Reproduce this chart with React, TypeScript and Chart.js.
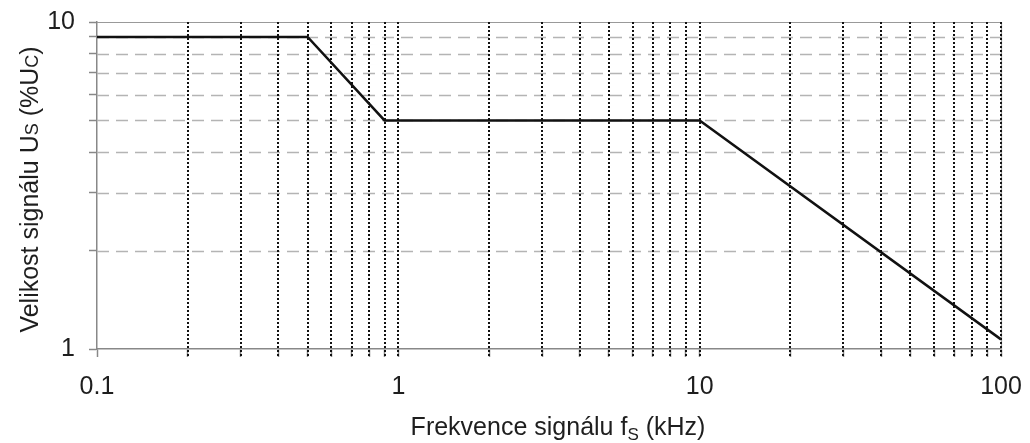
import React, { useEffect, useRef } from "react";
import { Chart, registerables } from "chart.js";

Chart.register(...registerables);

// ---- data ----
const frequencyKHz = [0.1, 0.5, 0.9, 10, 100];
const levelPercent = [9, 9, 5, 5, 1.07];

const xTickValues = [
  0.1, 0.2, 0.3, 0.4, 0.5, 0.6, 0.7, 0.8, 0.9,
  1, 2, 3, 4, 5, 6, 7, 8, 9,
  10, 20, 30, 40, 50, 60, 70, 80, 90, 100,
];
const xLabelValues = [0.1, 1, 10, 100];
const xLabelTexts = ["0.1", "1", "10", "100"];

const yTickValues = [1, 2, 3, 4, 5, 6, 7, 8, 9, 10];
const yLabelValues = [1, 10];
const yLabelTexts = ["1", "10"];

const xTitleParts = ["Frekvence signálu f", "S", " (kHz)"];
const yTitleParts = ["Velikost signálu U", "S", " (%U", "C", ")"];

const FONT = '"Liberation Sans", Arial, sans-serif';
const TEXT = "#1e1e1e";

function labelFor(v: number, values: number[], texts: string[]) {
  for (let i = 0; i < values.length; i++) {
    if (Math.abs(Math.log10(v) - Math.log10(values[i])) < 1e-6) return texts[i];
  }
  return "";
}

const gridPlugin = {
  id: "customGrid",
  beforeDatasetsDraw(chart: any) {
    const { ctx, chartArea } = chart;
    const xs = chart.scales.x;
    const ys = chart.scales.y;
    ctx.save();
    // horizontal dashed gray lines
    ctx.strokeStyle = "#b4b4b4";
    ctx.lineWidth = 1.5;
    ctx.setLineDash([12, 7]);
    for (const v of yTickValues) {
      if (v === 1 || v === 10) continue;
      const y = Math.round(ys.getPixelForValue(v)) + 0.5;
      ctx.beginPath();
      ctx.moveTo(chartArea.left, y);
      ctx.lineTo(chartArea.right, y);
      ctx.stroke();
    }
    // top and right solid gray frame
    ctx.setLineDash([]);
    ctx.strokeStyle = "#999";
    ctx.lineWidth = 1.2;
    ctx.beginPath();
    ctx.moveTo(chartArea.left, Math.round(ys.getPixelForValue(10)) + 0.5);
    ctx.lineTo(chartArea.right, Math.round(ys.getPixelForValue(10)) + 0.5);
    ctx.moveTo(Math.round(xs.getPixelForValue(100)) + 0.5, chartArea.top);
    ctx.lineTo(Math.round(xs.getPixelForValue(100)) + 0.5, chartArea.bottom);
    ctx.stroke();
    // vertical dotted black lines
    ctx.strokeStyle = "#111";
    ctx.lineWidth = 2;
    ctx.setLineDash([2, 2]);
    for (const v of xTickValues) {
      if (v === 0.1) continue;
      const x = Math.round(xs.getPixelForValue(v));
      ctx.beginPath();
      ctx.moveTo(x, chartArea.top);
      ctx.lineTo(x, chartArea.bottom + 8);
      ctx.stroke();
    }
    ctx.restore();
  },
};

function drawParts(ctx: any, parts: { t: string; size: number; dy: number }[], cx: number, baseY: number) {
  let total = 0;
  for (const p of parts) {
    ctx.font = `${p.size}px ${FONT}`;
    total += ctx.measureText(p.t).width;
  }
  let x = cx - total / 2;
  ctx.textBaseline = "alphabetic";
  ctx.textAlign = "left";
  for (const p of parts) {
    ctx.font = `${p.size}px ${FONT}`;
    ctx.fillText(p.t, x, baseY + p.dy);
    x += ctx.measureText(p.t).width;
  }
}

const titlePlugin = {
  id: "titles",
  afterDraw(chart: any) {
    const { ctx, chartArea } = chart;
    ctx.save();
    ctx.fillStyle = TEXT;
    const cx = (chartArea.left + chartArea.right) / 2 + 9;
    drawParts(
      ctx,
      [
        { t: xTitleParts[0], size: 25, dy: 0 },
        { t: xTitleParts[1], size: 17, dy: 5 },
        { t: xTitleParts[2], size: 25, dy: 0 },
      ],
      cx,
      435
    );
    ctx.translate(38, (chartArea.top + chartArea.bottom) / 2 + 4);
    ctx.rotate(-Math.PI / 2);
    drawParts(
      ctx,
      [
        { t: yTitleParts[0], size: 25, dy: 0 },
        { t: yTitleParts[1], size: 18, dy: 0 },
        { t: yTitleParts[2], size: 25, dy: 0 },
        { t: yTitleParts[3], size: 18, dy: 0 },
        { t: yTitleParts[4], size: 25, dy: 0 },
      ],
      0,
      0
    );
    ctx.restore();
  },
};

export default function App() {
  const ref = useRef<HTMLCanvasElement | null>(null);

  useEffect(() => {
    document.body.style.margin = "0";
    const canvas = ref.current;
    if (!canvas) return;
    const chart = new Chart(canvas, {
      type: "line",
      data: {
        datasets: [
          {
            data: frequencyKHz.map((f, i) => ({ x: f, y: levelPercent[i] })),
            borderColor: "#111",
            borderWidth: 2.5,
            pointRadius: 0,
            tension: 0,
            fill: false,
          },
        ],
      },
      options: {
        animation: false,
        responsive: false,
        parsing: false as any,
        layout: { padding: { top: 22, right: 29, left: 0, bottom: 0 } },
        plugins: { legend: { display: false }, tooltip: { enabled: false } },
        scales: {
          x: {
            type: "logarithmic",
            min: 0.1,
            max: 100,
            afterBuildTicks: (s: any) => {
              s.ticks = xTickValues.map((v) => ({ value: v }));
            },
            afterFit: (s: any) => {
              s.height = 94;
              s.paddingLeft = 0;
              s.paddingRight = 0;
              s.paddingTop = 0;
              s.paddingBottom = 0;
            },
            ticks: {
              autoSkip: false,
              maxRotation: 0,
              padding: 15,
              color: TEXT,
              font: { family: FONT, size: 25 },
              callback: (v: any) => labelFor(Number(v), xLabelValues, xLabelTexts),
            },
            grid: {
              drawOnChartArea: false,
              drawTicks: true,
              tickLength: 8,
              tickColor: "#888",
              tickWidth: 1.5,
            },
            border: { color: "#888", width: 1.5 },
          },
          y: {
            type: "logarithmic",
            min: 1,
            max: 10,
            afterBuildTicks: (s: any) => {
              s.ticks = yTickValues.map((v) => ({ value: v }));
            },
            afterFit: (s: any) => {
              s.width = 97;
              s.paddingLeft = 0;
              s.paddingRight = 0;
              s.paddingTop = 0;
              s.paddingBottom = 0;
            },
            ticks: {
              autoSkip: false,
              padding: 14,
              color: TEXT,
              font: { family: FONT, size: 25 },
              callback: (v: any) => labelFor(Number(v), yLabelValues, yLabelTexts),
            },
            grid: {
              drawOnChartArea: false,
              drawTicks: true,
              tickLength: 8,
              tickColor: "#888",
              tickWidth: 1.5,
            },
            border: { color: "#888", width: 1.5 },
          },
        },
      },
      plugins: [gridPlugin, titlePlugin],
    });
    return () => chart.destroy();
  }, []);

  return (
    <div style={{ width: 1030, height: 443, background: "#fff" }}>
      <canvas ref={ref} width={1030} height={443} style={{ width: 1030, height: 443, display: "block" }} />
    </div>
  );
}
